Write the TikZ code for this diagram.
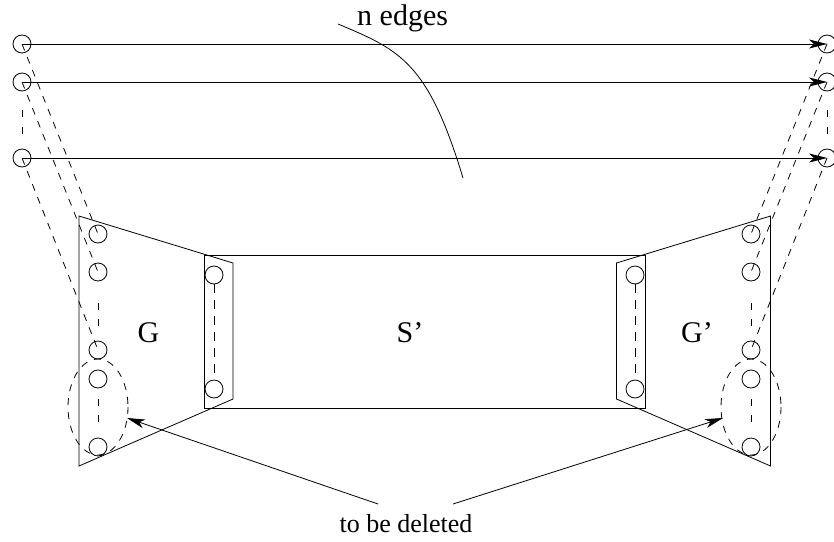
\documentclass[tikz,border=0pt]{standalone}
\usepackage{fontspec}
\setmainfont{Liberation Serif}
\usetikzlibrary{arrows.meta}
\begin{document}
\begin{tikzpicture}[x=1pt,y=-1pt,
  vtx/.style={circle,draw,line width=0.8pt,minimum size=18pt,inner sep=0pt},
  dsh/.style={dash pattern=on 7pt off 7pt, line width=0.8pt},
  solid line/.style={line width=0.8pt},
  tipped/.style={-{Stealth[length=18pt,width=9pt,inset=5pt]}},
  lbl/.style={font=\fontsize{30}{36}\selectfont, inner sep=0pt},
  smalllbl/.style={font=\fontsize{26}{31}\selectfont, inner sep=0pt}]
\useasboundingbox (0,0) rectangle (834,541);
% top vertices
\node[vtx] (L1) at (22,44) {};
\node[vtx] (L2) at (22,82) {};
\node[vtx] (L3) at (22,158) {};
\node[vtx] (R1) at (827,44) {};
\node[vtx] (R2) at (827,82) {};
\node[vtx] (R3) at (827,158) {};
% G vertices
\node[vtx] (g1) at (98,234) {};
\node[vtx] (g2) at (98,272) {};
\node[vtx] (g3) at (98,350) {};
\node[vtx] (g4) at (98,379) {};
\node[vtx] (g5) at (98,447) {};
% G' vertices
\node[vtx] (h1) at (751,234) {};
\node[vtx] (h2) at (751,272) {};
\node[vtx] (h3) at (751,350) {};
\node[vtx] (h4) at (751,379) {};
\node[vtx] (h5) at (751,447) {};
% S' boundary vertices
\node[vtx] (s1) at (214,275) {};
\node[vtx] (s2) at (214,389) {};
\node[vtx] (t1) at (635,275) {};
\node[vtx] (t2) at (635,389) {};
% shapes
\draw[solid line] (204,255) rectangle (645,408);
\draw[solid line] (79,216) -- (233,263) -- (233,399) -- (79,466) -- cycle;
\draw[solid line] (770.5,216) -- (616.5,263) -- (616.5,399) -- (770.5,466) -- cycle;
\draw[dsh] (98,407) ellipse [x radius=30, y radius=48];
\draw[dsh] (751,407) ellipse [x radius=30, y radius=48];
% n edges
\foreach \a/\b in {L1/R1,L2/R2,L3/R3}
  \draw[solid line,tipped] (\a.center) -- (\b.center);
\foreach \a/\b in {L1/g1,L2/g2,L3/g3,R1/h1,R2/h2,R3/h3}
  \draw[dsh] (\a.center) -- (\b.center);
% ellipsis dashes
\draw[dash pattern=on 7pt off 10pt, line width=0.8pt] (22,110) -- (22,134);
\draw[dash pattern=on 7pt off 10pt, line width=0.8pt] (827,110) -- (827,134);
\draw[dash pattern=on 7pt off 9pt, line width=0.8pt] (98,303) -- (98,327);
\draw[dash pattern=on 7pt off 9pt, line width=0.8pt] (751,303) -- (751,327);
\draw[dash pattern=on 7pt off 9pt, line width=0.8pt] (98,399) -- (98,423);
\draw[dash pattern=on 7pt off 9pt, line width=0.8pt] (751,399) -- (751,423);
\draw[dash pattern=on 9pt off 7pt, line width=0.8pt] (s1) -- (s2);
\draw[dash pattern=on 9pt off 7pt, line width=0.8pt] (t1) -- (t2);
% labels
\node[lbl, anchor=base] (G) at (148.5,342) {G};
\node[lbl, anchor=base] (S) at (410,342) {S'};
\node[lbl, anchor=base] (Gp) at (697,342) {G'};
\node[lbl, anchor=base west] (ne) at (357,25) {n edges};
\coordinate (c0) at (338,24);
\coordinate (c1) at (463,178);
\draw[solid line] (c0) .. controls (400,50) and (428,62) .. (c1);
\node[smalllbl, anchor=base] (del) at (406,532) {to be deleted};
\coordinate (d1) at (378,504);
\coordinate (d2) at (453,504);
\coordinate (e1) at (127,418);
\coordinate (e2) at (723,418);
\draw[solid line,tipped] (d1) -- (e1);
\draw[solid line,tipped] (d2) -- (e2);
\end{tikzpicture}
\end{document}
